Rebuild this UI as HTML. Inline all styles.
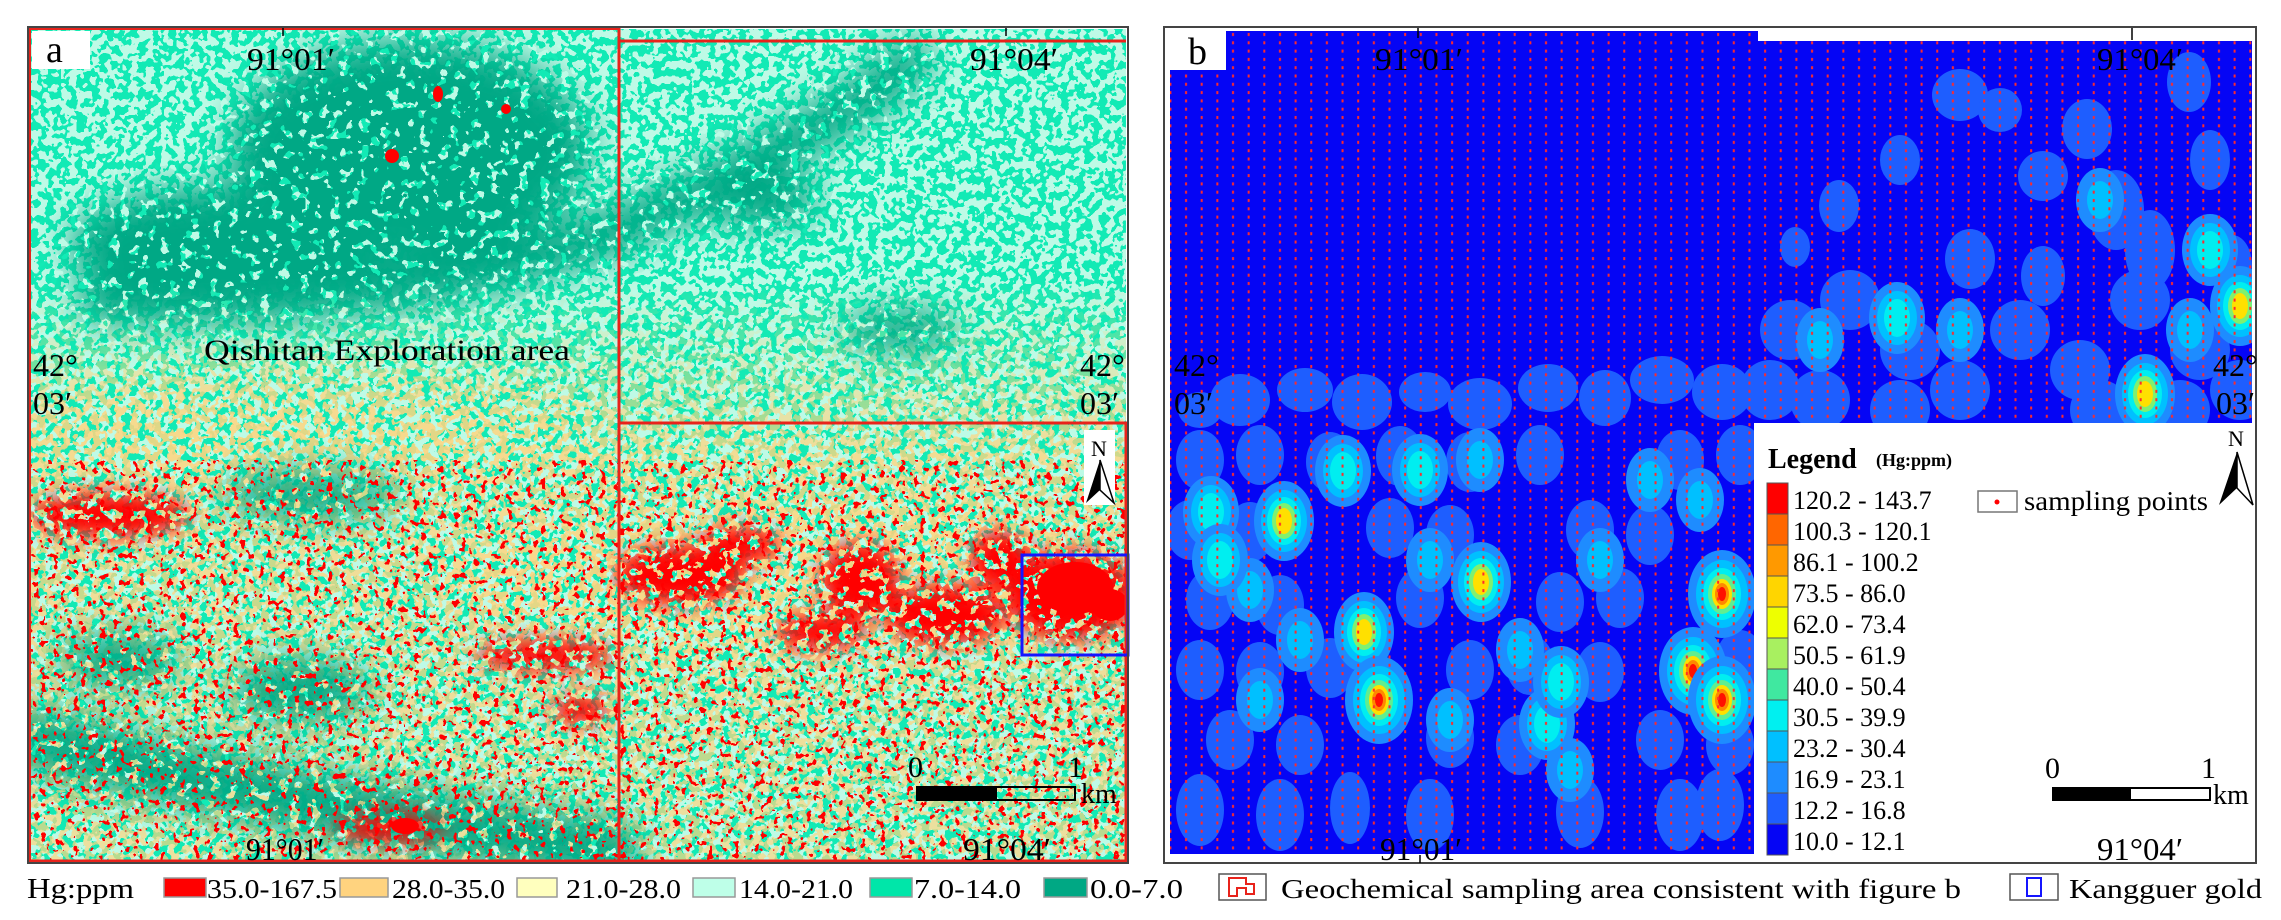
<!DOCTYPE html>
<html><head><meta charset="utf-8"><style>
html,body{margin:0;padding:0;background:#fff;}
svg{display:block;}
text{font-family:"Liberation Serif",serif;fill:#000;}
</style></head><body>
<svg width="2281" height="920" viewBox="0 0 2281 920" xmlns="http://www.w3.org/2000/svg">
<defs>
<clipPath id="cpA"><rect x="30" y="29" width="1096" height="831"/></clipPath>
<filter id="fCy" filterUnits="userSpaceOnUse" x="28" y="27" width="1100" height="836" color-interpolation-filters="sRGB">
<feTurbulence type="fractalNoise" baseFrequency="0.13" numOctaves="2" seed="2"/>
<feColorMatrix type="matrix" values="0 0 0 0 0.745 0 0 0 0 0.98 0 0 0 0 0.9 1 0 0 0 0"/>
<feComponentTransfer><feFuncA type="discrete" tableValues="0 0 0 0 0 1 1 1 1 1"/></feComponentTransfer>
</filter>
<filter id="fDk" filterUnits="userSpaceOnUse" x="28" y="27" width="1100" height="836" color-interpolation-filters="sRGB">
<feTurbulence type="fractalNoise" baseFrequency="0.1" numOctaves="2" seed="5"/>
<feColorMatrix type="matrix" values="0 0 0 0 0 0 0 0 0 0.66 0 0 0 0 0.52 1 0 0 0 0"/>
<feComponentTransfer><feFuncA type="discrete" tableValues="0 0 0 0 1 1 1 1 1 1"/></feComponentTransfer>
</filter>
<filter id="fOr" filterUnits="userSpaceOnUse" x="28" y="27" width="1100" height="836" color-interpolation-filters="sRGB">
<feTurbulence type="fractalNoise" baseFrequency="0.13" numOctaves="2" seed="8"/>
<feColorMatrix type="matrix" values="0 0 0 0 1 0 0 0 0 0.83 0 0 0 0 0.5 1 0 0 0 0"/>
<feComponentTransfer><feFuncA type="discrete" tableValues="0 0 0 0 0 1 1 1 1 1"/></feComponentTransfer>
</filter>
<filter id="fRd" filterUnits="userSpaceOnUse" x="28" y="27" width="1100" height="836" color-interpolation-filters="sRGB">
<feTurbulence type="fractalNoise" baseFrequency="0.1" numOctaves="2" seed="11"/>
<feColorMatrix type="matrix" values="0 0 0 0 1 0 0 0 0 0 0 0 0 0 0 1 0 0 0 0"/>
<feComponentTransfer><feFuncA type="discrete" tableValues="0 0 0 0 0 0 0 0 0 1 1 1 1 1 1 1 1 1 1 1"/></feComponentTransfer>
</filter>
<filter id="fRs" filterUnits="userSpaceOnUse" x="28" y="27" width="1100" height="836" color-interpolation-filters="sRGB">
<feTurbulence type="fractalNoise" baseFrequency="0.15" numOctaves="2" seed="17"/>
<feColorMatrix type="matrix" values="0 0 0 0 1 0 0 0 0 0 0 0 0 0 0 1 0 0 0 0"/>
<feComponentTransfer><feFuncA type="discrete" tableValues="0 0 0 0 0 0 0 0 0 0 0 0 0 1 1 1 1 1 1 1"/></feComponentTransfer>
</filter>
<filter id="bl" x="-50%" y="-50%" width="200%" height="200%"><feGaussianBlur stdDeviation="18"/></filter>
<filter id="bl2" x="-50%" y="-50%" width="200%" height="200%"><feGaussianBlur stdDeviation="10"/></filter>
<mask id="mDk" maskUnits="userSpaceOnUse" x="0" y="0" width="1200" height="920">
<g filter="url(#bl)" fill="#fff" stroke="#fff" stroke-linecap="round">
<ellipse cx="410" cy="150" rx="180" ry="110"/>
<ellipse cx="230" cy="245" rx="160" ry="60"/>
<path d="M100 300 Q450 310 650 215 T910 60" fill="none" stroke-width="45"/>
<path d="M40 740 Q250 800 610 850" fill="none" stroke-width="60"/>
<ellipse cx="310" cy="495" rx="90" ry="22"/>
<ellipse cx="300" cy="690" rx="70" ry="30"/>
<ellipse cx="120" cy="660" rx="60" ry="25"/>
<ellipse cx="760" cy="200" rx="60" ry="25"/>
<ellipse cx="900" cy="330" rx="60" ry="20"/>
</g>
</mask>
<linearGradient id="gOr" x1="0" y1="0" x2="0" y2="1"><stop offset="0" stop-color="#fff" stop-opacity="0"/><stop offset="0.3" stop-color="#fff" stop-opacity="0.8"/><stop offset="1" stop-color="#fff" stop-opacity="0.7"/></linearGradient>
<mask id="mOr" maskUnits="userSpaceOnUse" x="0" y="0" width="1200" height="920">
<rect x="28" y="280" width="1100" height="580" fill="url(#gOr)"/>
<g filter="url(#bl)" fill="#fff" opacity="0.6"><ellipse cx="300" cy="420" rx="300" ry="50"/><ellipse cx="800" cy="580" rx="350" ry="70"/></g>
</mask>
<mask id="mRd" maskUnits="userSpaceOnUse" x="0" y="0" width="1200" height="920">
<g filter="url(#bl2)" fill="#fff">
<ellipse cx="680" cy="575" rx="65" ry="30"/><ellipse cx="860" cy="580" rx="40" ry="38"/>
<ellipse cx="945" cy="615" rx="60" ry="30"/><ellipse cx="820" cy="632" rx="45" ry="18"/>
<ellipse cx="1070" cy="595" rx="65" ry="45"/><ellipse cx="110" cy="515" rx="80" ry="22"/>
<ellipse cx="545" cy="655" rx="70" ry="15"/><ellipse cx="390" cy="828" rx="55" ry="14"/>
<ellipse cx="580" cy="710" rx="30" ry="14"/><ellipse cx="740" cy="545" rx="40" ry="18"/>
<ellipse cx="1000" cy="560" rx="30" ry="30"/>
</g>
</mask>
<mask id="mRs" maskUnits="userSpaceOnUse" x="0" y="0" width="1200" height="920">
<rect x="28" y="460" width="1100" height="400" fill="#fff"/>
</mask>
<pattern id="dots" patternUnits="userSpaceOnUse" x="1226" y="31" width="15.65" height="8.3"><rect x="6" y="2" width="2" height="3" fill="#ff2a2a"/></pattern>
<clipPath id="cpB"><path d="M1226 31 H1758 V41 H2252 V423 H1754 V854 H1170 V70 H1226 Z"/></clipPath>
<g id="hR"><ellipse rx="34" ry="44" fill="#1E8CFF"/><ellipse rx="26" ry="34" fill="#00C0FF"/><ellipse rx="19" ry="26" fill="#00EEF0"/><ellipse rx="14" ry="20" fill="#60EE90"/><ellipse rx="10" ry="15" fill="#FFE000"/><ellipse rx="7" ry="11" fill="#FF8800"/><ellipse rx="4" ry="7" fill="#FF1000"/></g>
<g id="hY"><ellipse rx="30" ry="40" fill="#1E8CFF"/><ellipse rx="23" ry="31" fill="#00C0FF"/><ellipse rx="17" ry="24" fill="#00EEF0"/><ellipse rx="12" ry="18" fill="#80F070"/><ellipse rx="8" ry="13" fill="#FFE000"/></g>
<g id="hC"><ellipse rx="28" ry="36" fill="#1E8CFF"/><ellipse rx="20" ry="27" fill="#00C0FF"/><ellipse rx="13" ry="19" fill="#00EEF0"/></g>
<g id="hL"><ellipse rx="24" ry="32" fill="#1E8CFF"/><ellipse rx="13" ry="19" fill="#00C0FF"/></g>
</defs>

<!-- PANEL A -->
<g clip-path="url(#cpA)">
<rect x="28" y="27" width="1100" height="836" fill="#12EAB5"/>
<rect x="28" y="27" width="1100" height="836" filter="url(#fCy)"/>
<rect x="28" y="27" width="1100" height="836" filter="url(#fOr)" mask="url(#mOr)"/>
<rect x="28" y="27" width="1100" height="836" filter="url(#fDk)" mask="url(#mDk)"/>
<rect x="28" y="27" width="1100" height="836" filter="url(#fRd)" mask="url(#mRd)"/>
<rect x="28" y="27" width="1100" height="836" filter="url(#fRs)" mask="url(#mRs)"/>
<g fill="#f00">
<ellipse cx="1075" cy="588" rx="38" ry="26"/><ellipse cx="1110" cy="605" rx="18" ry="16"/>
<ellipse cx="438" cy="94" rx="5" ry="8"/><ellipse cx="506" cy="109" rx="5" ry="5"/><ellipse cx="392" cy="156" rx="7" ry="7"/>
<ellipse cx="405" cy="826" rx="14" ry="8"/>
</g>
</g>
<!-- red outline boxes -->
<g fill="none" stroke="#e8231b" stroke-width="3">
<path d="M29.5 28.5 H619 V861 H29.5 Z"/>
<path d="M619 41 H1126 M619 423 H1126 V861 H619 V423"/>
<path d="M619 28.5 V41"/>
</g>
<rect x="1022" y="555" width="106" height="100" fill="none" stroke="#1515ff" stroke-width="3"/>
<rect x="28" y="27" width="1100" height="836" fill="none" stroke="#444" stroke-width="2"/>
<rect x="32" y="31" width="58" height="38" fill="#fff"/>
<text x="46" y="62" font-size="38">a</text>
<g font-size="32">
<text x="247" y="70" textLength="88" lengthAdjust="spacingAndGlyphs">91°01′</text>
<text x="970" y="70" textLength="88" lengthAdjust="spacingAndGlyphs">91°04′</text>
<text x="246" y="860" textLength="78" lengthAdjust="spacingAndGlyphs">91°01′</text>
<text x="963" y="860" textLength="88" lengthAdjust="spacingAndGlyphs">91°04′</text>
<text x="33" y="376">42°</text><text x="33" y="414">03′</text>
<text x="1080" y="376">42°</text><text x="1080" y="414">03′</text>
</g>
<text x="204" y="360" font-size="30" textLength="366" lengthAdjust="spacingAndGlyphs">Qishitan Exploration area</text>
<line x1="283" y1="28" x2="283" y2="36" stroke="#000" stroke-width="1.5"/>
<line x1="1006" y1="28" x2="1006" y2="36" stroke="#000" stroke-width="1.5"/>
<!-- north arrow a -->
<rect x="1084" y="430" width="31" height="75" fill="#fff"/>
<text x="1091" y="456" font-size="22" font-family="Liberation Sans,sans-serif">N</text>
<path d="M1100 460 L1086 503 L1100 490 Z" fill="#000"/><path d="M1100 460 L1114 503 L1100 490 Z" fill="#fff" stroke="#000" stroke-width="1.5"/>
<!-- scale a -->
<text x="908" y="777" font-size="30">0</text><text x="1068" y="777" font-size="30">1</text>
<rect x="916" y="786" width="80" height="15" fill="#000"/><rect x="996" y="787" width="79" height="13" fill="none" stroke="#000" stroke-width="2"/>
<text x="1081" y="803" font-size="28">km</text>

<!-- PANEL B -->
<rect x="1164" y="27" width="1092" height="836" fill="#fff" stroke="#444" stroke-width="2"/>
<g clip-path="url(#cpB)">
<rect x="1160" y="25" width="1100" height="840" fill="#0505F5"/>
<g fill="#1E5EFF">
<ellipse cx="1240" cy="400" rx="30" ry="26"/><ellipse cx="1305" cy="390" rx="28" ry="22"/><ellipse cx="1362" cy="402" rx="30" ry="28"/><ellipse cx="1425" cy="392" rx="26" ry="20"/><ellipse cx="1480" cy="404" rx="32" ry="26"/><ellipse cx="1548" cy="388" rx="30" ry="24"/><ellipse cx="1605" cy="398" rx="26" ry="28"/><ellipse cx="1662" cy="380" rx="32" ry="24"/><ellipse cx="1722" cy="392" rx="30" ry="28"/><ellipse cx="1200" cy="410" rx="22" ry="18"/>
<ellipse cx="1790" cy="330" rx="30" ry="30"/><ellipse cx="1850" cy="300" rx="30" ry="30"/><ellipse cx="1910" cy="350" rx="30" ry="30"/><ellipse cx="1960" cy="390" rx="30" ry="30"/><ellipse cx="2020" cy="330" rx="30" ry="30"/><ellipse cx="2080" cy="370" rx="30" ry="30"/><ellipse cx="2140" cy="300" rx="30" ry="30"/><ellipse cx="2200" cy="350" rx="30" ry="30"/><ellipse cx="2240" cy="390" rx="30" ry="30"/><ellipse cx="1820" cy="400" rx="30" ry="30"/><ellipse cx="1900" cy="410" rx="30" ry="30"/><ellipse cx="2100" cy="410" rx="30" ry="30"/><ellipse cx="2180" cy="410" rx="30" ry="30"/><ellipse cx="1770" cy="390" rx="30" ry="30"/>
<ellipse cx="1839" cy="206" rx="20" ry="26"/><ellipse cx="1960" cy="95" rx="28" ry="26"/><ellipse cx="2000" cy="110" rx="22" ry="22"/><ellipse cx="2087" cy="129" rx="25" ry="30"/><ellipse cx="2043" cy="176" rx="25" ry="25"/><ellipse cx="2116" cy="210" rx="28" ry="40"/><ellipse cx="2189" cy="82" rx="22" ry="30"/><ellipse cx="1970" cy="259" rx="25" ry="30"/><ellipse cx="2043" cy="276" rx="22" ry="30"/><ellipse cx="1795" cy="247" rx="15" ry="20"/><ellipse cx="2232" cy="265" rx="20" ry="30"/><ellipse cx="2210" cy="160" rx="20" ry="30"/><ellipse cx="2150" cy="250" rx="25" ry="40"/><ellipse cx="1900" cy="160" rx="20" ry="25"/>
</g>
<g fill="#1E5EFF">
<ellipse cx="1200" cy="460" rx="24" ry="30"/><ellipse cx="1260" cy="455" rx="24" ry="30"/><ellipse cx="1330" cy="462" rx="24" ry="30"/><ellipse cx="1400" cy="456" rx="24" ry="30"/><ellipse cx="1470" cy="462" rx="24" ry="30"/><ellipse cx="1540" cy="455" rx="24" ry="30"/><ellipse cx="1680" cy="460" rx="24" ry="30"/><ellipse cx="1740" cy="455" rx="24" ry="30"/>
<ellipse cx="1190" cy="530" rx="24" ry="30"/><ellipse cx="1250" cy="532" rx="24" ry="30"/><ellipse cx="1390" cy="528" rx="24" ry="30"/><ellipse cx="1450" cy="535" rx="24" ry="30"/><ellipse cx="1590" cy="530" rx="24" ry="30"/><ellipse cx="1650" cy="535" rx="24" ry="30"/>
<ellipse cx="1210" cy="600" rx="24" ry="30"/><ellipse cx="1280" cy="605" rx="24" ry="30"/><ellipse cx="1420" cy="598" rx="24" ry="30"/><ellipse cx="1560" cy="602" rx="24" ry="30"/><ellipse cx="1620" cy="598" rx="24" ry="30"/>
<ellipse cx="1200" cy="670" rx="24" ry="30"/><ellipse cx="1260" cy="672" rx="24" ry="30"/><ellipse cx="1330" cy="668" rx="24" ry="30"/><ellipse cx="1470" cy="670" rx="24" ry="30"/><ellipse cx="1530" cy="665" rx="24" ry="30"/><ellipse cx="1600" cy="672" rx="24" ry="30"/><ellipse cx="1740" cy="660" rx="24" ry="30"/>
<ellipse cx="1230" cy="740" rx="24" ry="30"/><ellipse cx="1300" cy="745" rx="24" ry="30"/><ellipse cx="1450" cy="738" rx="24" ry="30"/><ellipse cx="1520" cy="745" rx="24" ry="30"/><ellipse cx="1660" cy="740" rx="24" ry="30"/><ellipse cx="1730" cy="745" rx="24" ry="30"/>
<ellipse cx="1200" cy="810" rx="24" ry="36"/><ellipse cx="1280" cy="815" rx="24" ry="36"/><ellipse cx="1350" cy="808" rx="20" ry="36"/><ellipse cx="1430" cy="815" rx="24" ry="36"/><ellipse cx="1580" cy="812" rx="24" ry="36"/><ellipse cx="1680" cy="815" rx="24" ry="36"/><ellipse cx="1720" cy="805" rx="24" ry="36"/>
</g>
<use href="#hL" x="1250" y="590"/><use href="#hL" x="1430" y="560"/><use href="#hL" x="1600" y="560"/><use href="#hL" x="1650" y="480"/><use href="#hL" x="1520" y="650"/><use href="#hL" x="1300" y="640"/><use href="#hL" x="1260" y="700"/><use href="#hL" x="1450" y="720"/><use href="#hL" x="1480" y="460"/><use href="#hL" x="1700" y="500"/><use href="#hL" x="1570" y="770"/><use href="#hL" x="2100" y="200"/><use href="#hL" x="1820" y="340"/><use href="#hL" x="1960" y="330"/><use href="#hL" x="2190" y="330"/>
<use href="#hC" x="1211" y="512"/><use href="#hC" x="1343" y="471"/><use href="#hC" x="1897" y="318"/><use href="#hC" x="1547" y="724"/><use href="#hC" x="1561" y="682"/><use href="#hC" x="1420" y="470"/><use href="#hC" x="1220" y="560"/><use href="#hC" x="2210" y="250"/>
<use href="#hY" x="1284" y="521"/><use href="#hY" x="1481" y="582"/><use href="#hY" x="1364" y="632"/><use href="#hY" x="2240" y="306"/><use href="#hY" x="2145" y="394"/>
<use href="#hR" x="1379" y="700"/><use href="#hR" x="1722" y="594"/><use href="#hR" x="1693" y="671"/><use href="#hR" x="1722" y="700"/>
<rect x="1160" y="25" width="1100" height="840" fill="url(#dots)"/>
</g>
<rect x="1170" y="31" width="56" height="39" fill="#fff"/>
<text x="1188" y="64" font-size="38">b</text>
<line x1="1418" y1="28" x2="1418" y2="38" stroke="#000" stroke-width="1.5"/>
<line x1="2132" y1="28" x2="2132" y2="40" stroke="#000" stroke-width="1.5"/>
<line x1="1420" y1="855" x2="1420" y2="863" stroke="#000" stroke-width="1.5"/>
<g font-size="32">
<text x="1375" y="70" textLength="88" lengthAdjust="spacingAndGlyphs">91°01′</text>
<text x="2097" y="70" textLength="86" lengthAdjust="spacingAndGlyphs">91°04′</text>
<text x="1380" y="860" textLength="82" lengthAdjust="spacingAndGlyphs">91°01′</text>
<text x="2097" y="860" textLength="86" lengthAdjust="spacingAndGlyphs">91°04′</text>
<text x="1174" y="376">42°</text><text x="1174" y="414">03′</text>
<text x="2213" y="376">42°</text><text x="2216" y="414">03′</text>
</g>
<!-- legend b -->
<text x="1768" y="468" font-size="28" font-weight="bold">Legend</text>
<text x="1876" y="466" font-size="18" font-weight="bold">(Hg:ppm)</text>
<g stroke="#555" stroke-width="1">
<rect x="1767" y="483" width="21" height="31" fill="#FF0000"/>
<rect x="1767" y="514" width="21" height="31" fill="#FF6600"/>
<rect x="1767" y="545" width="21" height="31" fill="#FF9900"/>
<rect x="1767" y="576" width="21" height="31" fill="#FFD500"/>
<rect x="1767" y="607" width="21" height="31" fill="#EEFF00"/>
<rect x="1767" y="638" width="21" height="31" fill="#A8F060"/>
<rect x="1767" y="669" width="21" height="31" fill="#40E8A0"/>
<rect x="1767" y="700" width="21" height="31" fill="#00F0F0"/>
<rect x="1767" y="731" width="21" height="31" fill="#00C0FF"/>
<rect x="1767" y="762" width="21" height="31" fill="#1E8CFF"/>
<rect x="1767" y="793" width="21" height="31" fill="#1E5EFF"/>
<rect x="1767" y="824" width="21" height="31" fill="#0505F5"/>
</g>
<g font-size="26">
<text x="1793" y="509">120.2 - 143.7</text>
<text x="1793" y="540">100.3 - 120.1</text>
<text x="1793" y="571">86.1 - 100.2</text>
<text x="1793" y="602">73.5 - 86.0</text>
<text x="1793" y="633">62.0 - 73.4</text>
<text x="1793" y="664">50.5 - 61.9</text>
<text x="1793" y="695">40.0 - 50.4</text>
<text x="1793" y="726">30.5 - 39.9</text>
<text x="1793" y="757">23.2 - 30.4</text>
<text x="1793" y="788">16.9 - 23.1</text>
<text x="1793" y="819">12.2 - 16.8</text>
<text x="1793" y="850">10.0 - 12.1</text>
</g>
<rect x="1978" y="491" width="39" height="21" fill="#fff" stroke="#777" stroke-width="1.5"/>
<circle cx="1997" cy="502" r="2.5" fill="#f00"/>
<text x="2024" y="510" font-size="27" textLength="184" lengthAdjust="spacingAndGlyphs">sampling points</text>
<text x="2228" y="446" font-size="22" font-family="Liberation Sans,sans-serif">N</text>
<path d="M2237 452 L2219 505 L2237 488 Z" fill="#000"/><path d="M2237 452 L2253 505 L2237 488 Z" fill="#fff" stroke="#000" stroke-width="1.5"/>
<text x="2045" y="778" font-size="30">0</text><text x="2201" y="778" font-size="30">1</text>
<rect x="2052" y="787" width="78" height="14" fill="#000"/><rect x="2130" y="788" width="80" height="12" fill="none" stroke="#000" stroke-width="2"/>
<text x="2213" y="804" font-size="28">km</text>

<!-- bottom legend -->
<text x="27" y="898" font-size="28" textLength="107" lengthAdjust="spacingAndGlyphs">Hg:ppm</text>
<g stroke="#999" stroke-width="1.5">
<rect x="164" y="878" width="42" height="19" fill="#FF0000"/>
<rect x="340" y="878" width="48" height="19" fill="#FFD37F"/>
<rect x="517" y="878" width="40" height="19" fill="#FFFFBE"/>
<rect x="693" y="878" width="42" height="19" fill="#BEFFE8"/>
<rect x="870" y="878" width="42" height="19" fill="#00E6A9"/>
<rect x="1044" y="878" width="43" height="19" fill="#00A884"/>
</g>
<g font-size="27">
<text x="207" y="898" textLength="130" lengthAdjust="spacingAndGlyphs">35.0-167.5</text>
<text x="392" y="898" textLength="113" lengthAdjust="spacingAndGlyphs">28.0-35.0</text>
<text x="566" y="898" textLength="115" lengthAdjust="spacingAndGlyphs">21.0-28.0</text>
<text x="739" y="898" textLength="114" lengthAdjust="spacingAndGlyphs">14.0-21.0</text>
<text x="914" y="898" textLength="107" lengthAdjust="spacingAndGlyphs">7.0-14.0</text>
<text x="1090" y="898" textLength="93" lengthAdjust="spacingAndGlyphs">0.0-7.0</text>
<text x="1281" y="898" textLength="680" lengthAdjust="spacingAndGlyphs">Geochemical sampling area consistent with figure  b</text>
<text x="2069" y="898" textLength="193" lengthAdjust="spacingAndGlyphs">Kangguer gold</text>
</g>
<rect x="1219" y="874" width="47" height="26" fill="#fff" stroke="#555" stroke-width="1.5"/>
<path d="M1229 878 H1246 V884 H1254 V894 H1246 V888 H1237 V896 H1229 Z" fill="#fff" stroke="#e8231b" stroke-width="2"/>
<rect x="2010" y="874" width="48" height="26" fill="#fff" stroke="#555" stroke-width="1.5"/>
<rect x="2027" y="878" width="14" height="18" fill="#fff" stroke="#1515ff" stroke-width="2"/>
</svg>
</body></html>
